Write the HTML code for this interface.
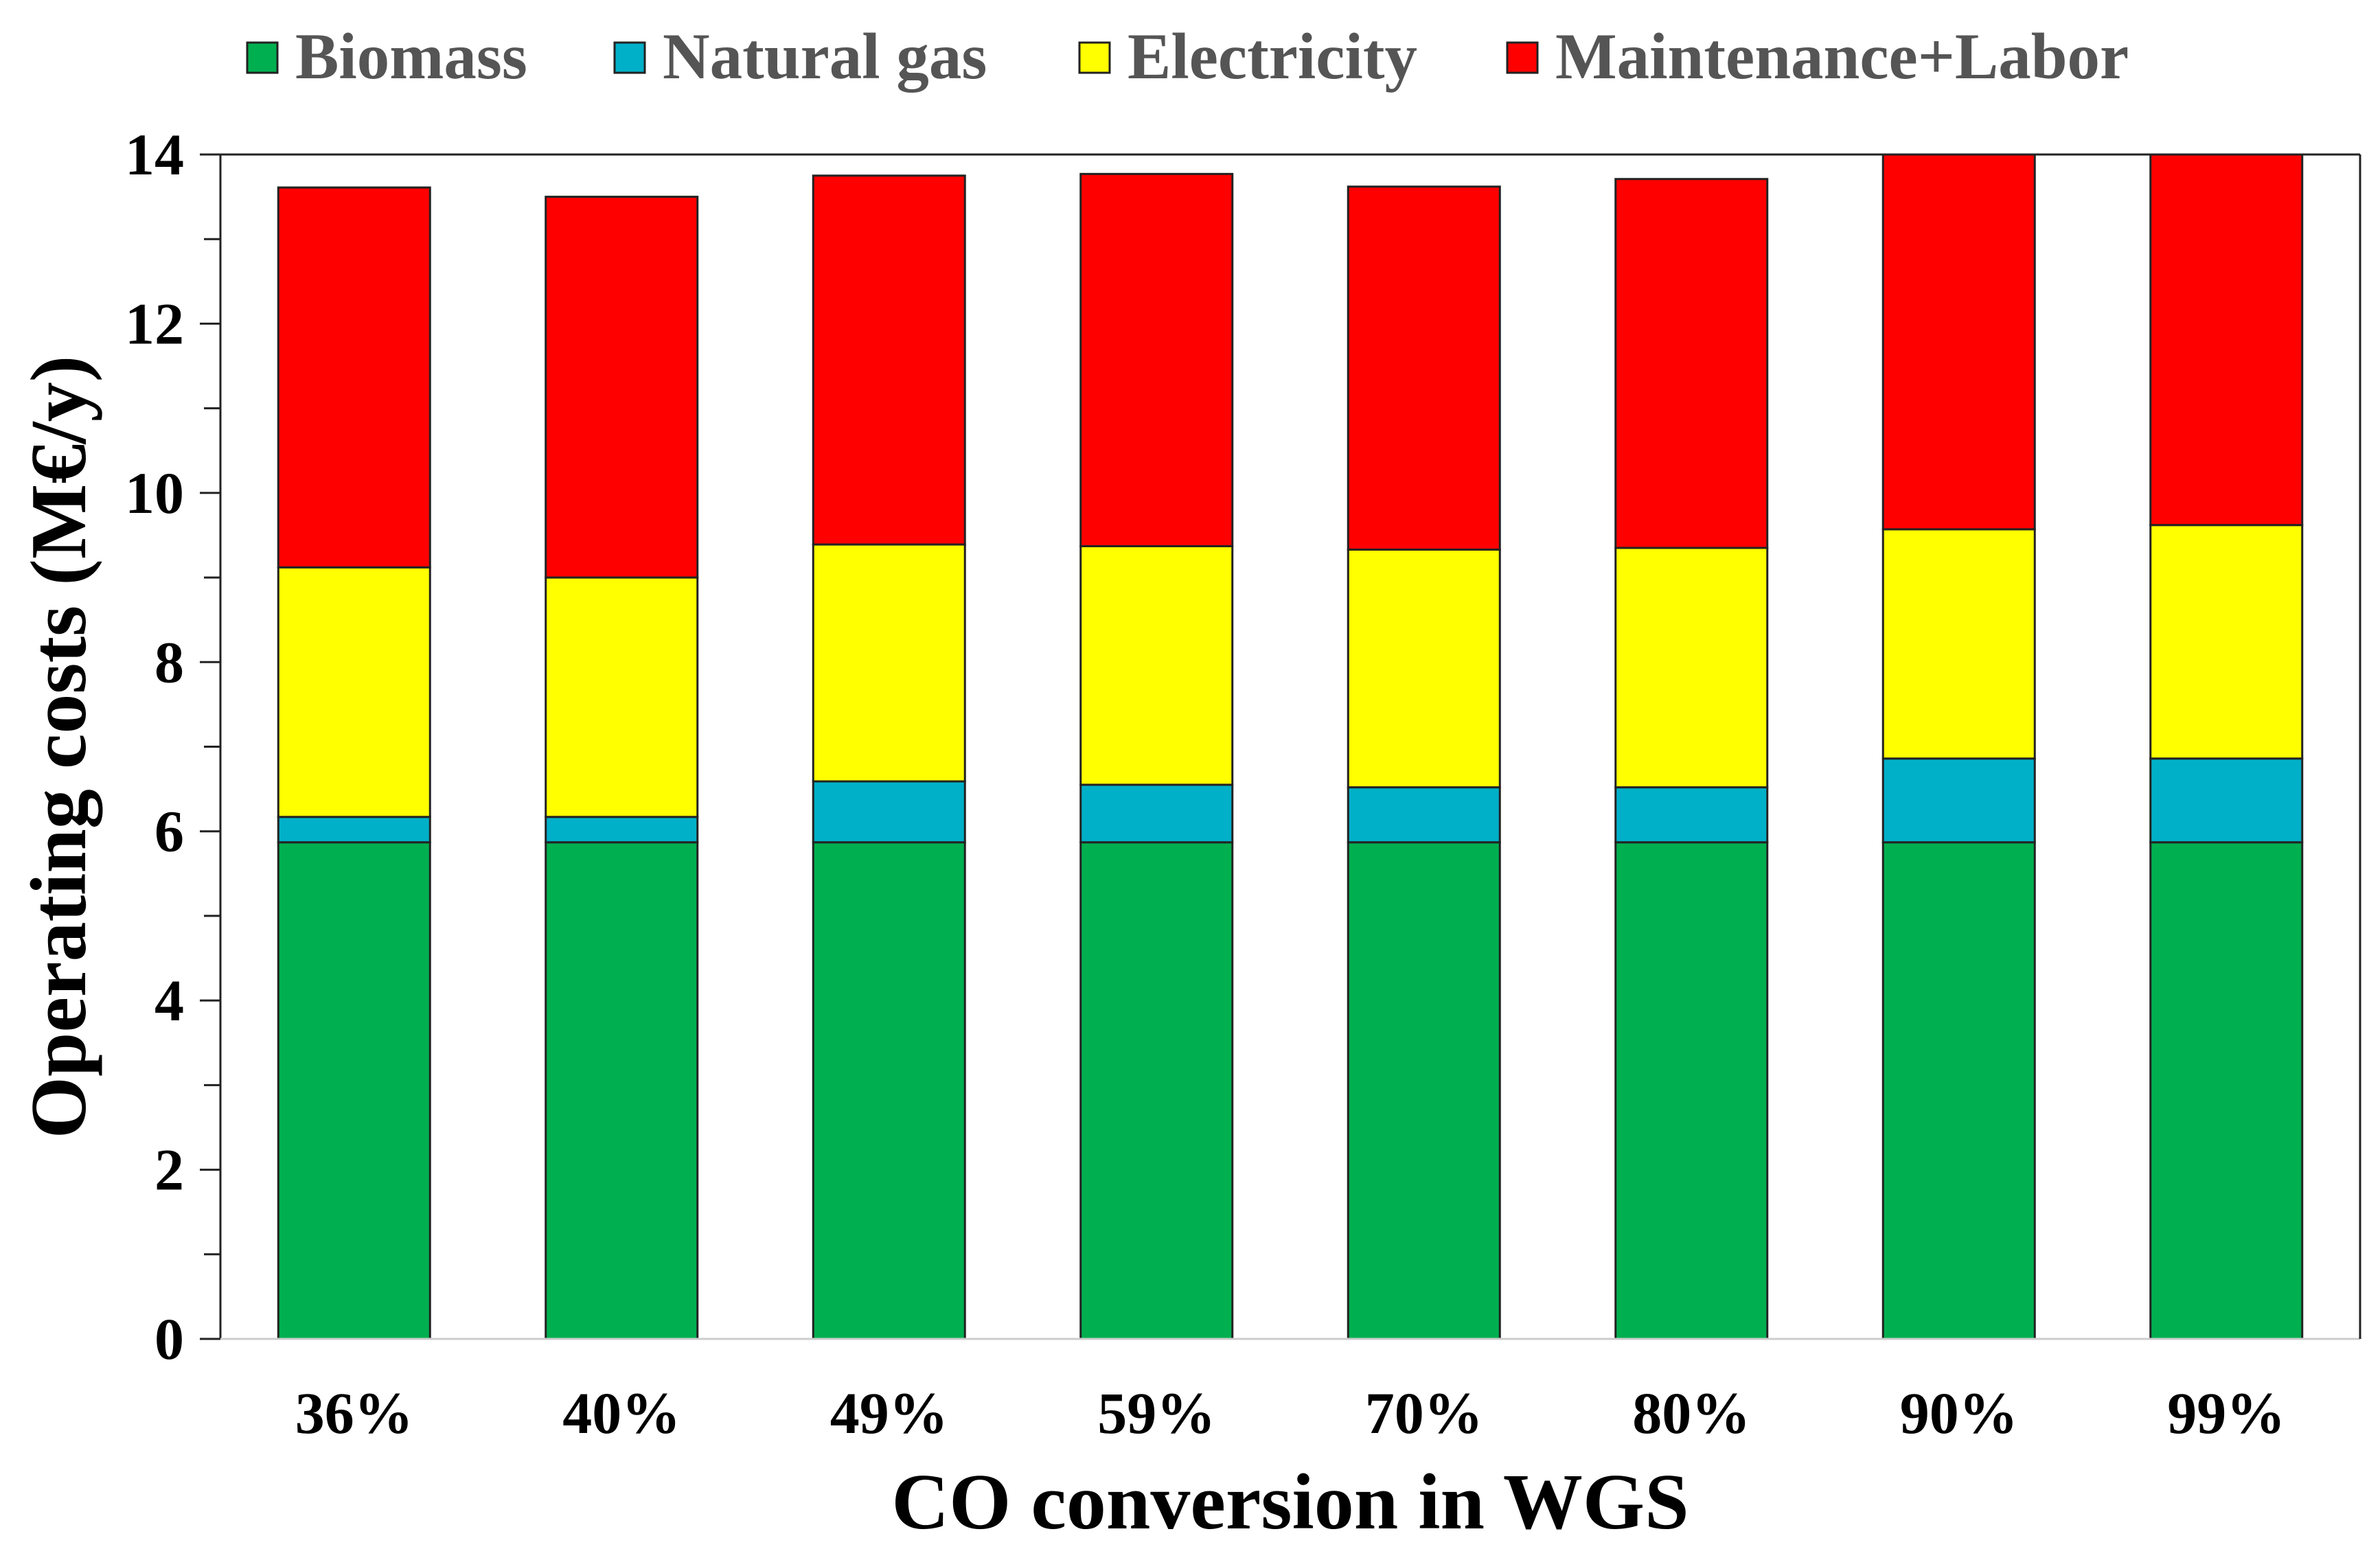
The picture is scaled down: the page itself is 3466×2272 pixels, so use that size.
<!DOCTYPE html>
<html><head><meta charset="utf-8"><style>
html,body{margin:0;padding:0;background:#fff;}
svg{display:block;font-family:"Liberation Serif",serif;font-weight:bold;}
</style></head><body>
<svg id="chart" width="3466" height="2272" viewBox="0 0 3466 2272" xmlns="http://www.w3.org/2000/svg">
<g id="legend"></g>
<g id="bars"></g>
<g id="axes"></g>
<text x="1879" y="2226" font-size="116" text-anchor="middle" fill="#000">CO conversion in WGS</text>
<text transform="translate(124,1088) rotate(-90)" font-size="116" text-anchor="middle" fill="#000">Operating costs (M€/y)</text>
</svg>
<script>
const categories = ["36%","40%","49%","59%","70%","80%","90%","99%"];
const biomass = [5.87,5.87,5.87,5.87,5.87,5.87,5.87,5.87];
const naturalGas = [0.30,0.30,0.72,0.68,0.65,0.65,0.99,0.99];
const electricity = [2.95,2.83,2.80,2.82,2.81,2.83,2.71,2.76];
const maintenanceLabor = [4.49,4.50,4.36,4.40,4.29,4.36,4.63,4.68];
const yTicks = [0,2,4,6,8,10,12,14];
const seriesNames = ["Biomass","Natural gas","Electricity","Maintenance+Labor"];

const NS="http://www.w3.org/2000/svg";
const L=321,R=3437,T=225,B=1950,YMAX=14;
const colors=["#00b050","#00b0c8","#ffff00","#ff0000"];
const y=v=>B-(v/YMAX)*(B-T);
const step=(R-L)/categories.length;
const xc=i=>L+step*(i+0.5);
const bw=221;
function mk(tag,attrs,parent){const e=document.createElementNS(NS,tag);for(const k in attrs)e.setAttribute(k,attrs[k]);parent.appendChild(e);return e;}
const bars=document.getElementById('bars'),axes=document.getElementById('axes'),legend=document.getElementById('legend');
const clip=mk('clipPath',{id:'pc'},document.getElementById('chart'));
mk('rect',{x:L,y:T,width:R-L,height:B-T},clip);
bars.setAttribute('clip-path','url(#pc)');
const series=[biomass,naturalGas,electricity,maintenanceLabor];
categories.forEach((c,i)=>{
  let base=0;
  series.forEach((s,k)=>{
    const top=base+s[i];
    const r=mk('rect',{x:xc(i)-bw/2,y:y(top),width:bw,height:y(base)-y(top),fill:colors[k],stroke:'#222','stroke-width':3},bars);
    
    
    base=top;
  });
  const t=mk('text',{x:xc(i),y:2087,'font-size':86,'text-anchor':'middle',fill:'#000'},axes);
  t.textContent=c;
  
  
});
let a=mk('line',{x1:L,y1:T,x2:L,y2:B,stroke:'#222','stroke-width':3},axes);


a=mk('line',{x1:L,y1:B,x2:R,y2:B,stroke:'#ccc','stroke-width':3},axes);


a=mk('line',{x1:L,y1:T,x2:R,y2:T,stroke:'#222','stroke-width':3},axes);


a=mk('line',{x1:R,y1:T,x2:R,y2:B,stroke:'#222','stroke-width':3},axes);


for(let v=0;v<=YMAX;v++){
  const tk=mk('line',{x1:L-(v%2?24:30),y1:y(v),x2:L,y2:y(v),stroke:'#222','stroke-width':3},axes);
  
  
}
yTicks.forEach(v=>{
  const t=mk('text',{x:268,y:y(v)+29,'font-size':86,'text-anchor':'end',fill:'#000'},axes);
  t.textContent=v;
  
  
});
const lx=[360,895,1572,2195];
seriesNames.forEach((n,k)=>{
  const r=mk('rect',{x:lx[k],y:62,width:44,height:44,fill:colors[k],stroke:'#222','stroke-width':3},legend);
  
  
  const t=mk('text',{x:lx[k]+70,y:114,'font-size':95,fill:'#555'},legend);
  t.textContent=n;
  
  
});
</script>
</body></html>
